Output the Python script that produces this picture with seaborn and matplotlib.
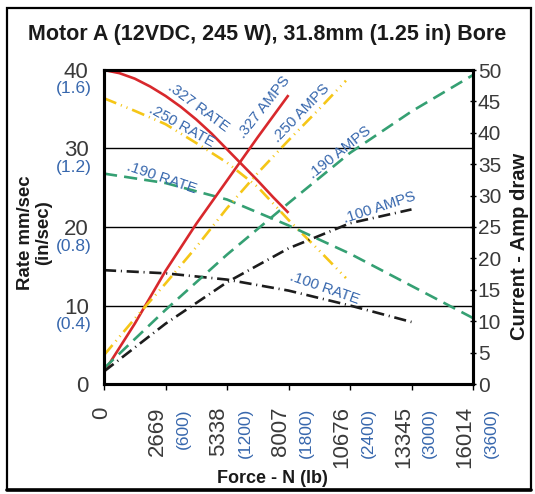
import matplotlib
matplotlib.use("Agg")
import matplotlib.pyplot as plt
import matplotlib.transforms as mtransforms
from matplotlib import font_manager
from matplotlib.patches import Rectangle
from matplotlib.lines import Line2D
import seaborn as sns

# ---------------- data ----------------
title = "Motor A (12VDC, 245 W), 31.8mm (1.25 in) Bore"
force_ticks = [0, 2669, 5338, 8007, 10676, 13345, 16014]
force_lb = ["", "(600)", "(1200)", "(1800)", "(2400)", "(3000)", "(3600)"]
rate_ticks = [0, 10, 20, 30, 40]
rate_in = ["", "(0.4)", "(0.8)", "(1.2)", "(1.6)"]
amp_ticks = [0, 5, 10, 15, 20, 25, 30, 35, 40, 45, 50]

# .327 lead
f327r = [0, 667, 1334, 2001, 2669, 3336, 4003, 4670, 5338, 6005, 6672, 7339, 8007]
rate327 = [40.0, 39.6, 38.9, 37.9, 36.7, 35.3, 33.7, 31.9, 29.9, 27.9, 25.9, 23.8, 21.8]
f327 = [0, 1334, 2669, 4003, 5338, 6672, 8007]
amps327 = [1.9, 9.6, 18.0, 25.5, 32.4, 39.3, 46.0]

# .250 lead
f250 = [0, 1334, 2669, 4003, 5338, 6672, 8007, 9341, 10500]
rate250 = [36.4, 34.8, 33.1, 30.7, 28.2, 25.1, 20.9, 17.0, 13.5]
amps250 = [4.6, 10.4, 16.0, 21.8, 28.0, 33.6, 38.8, 43.8, 48.3]

# .190 lead
f190 = [0, 2669, 5338, 8007, 10676, 13345, 16014]
rate190 = [26.8, 25.6, 23.5, 20.2, 16.6, 12.5, 8.4]
amps190 = [2.5, 11.8, 20.6, 28.8, 36.8, 43.4, 49.2]

# .100 lead
f100 = [0, 2669, 5338, 8007, 10676, 13345]
rate100 = [14.5, 14.1, 13.3, 11.9, 10.0, 7.9]
amps100 = [2.0, 9.6, 16.2, 21.6, 25.6, 27.8]

# line labels: (text, force, rate-axis value, rotation)
label_text = [".327 RATE", ".250 RATE", ".190 RATE", ".327 AMPS",
              ".250 AMPS", ".190 AMPS", ".100 AMPS", ".100 RATE"]
label_x = [4100, 3372, 2504, 6944, 8572, 10242, 11978, 9591]
label_y = [35.3, 32.8, 26.3, 35.3, 34.5, 29.5, 22.5, 12.2]
label_rot = [-36.6, -29.0, -18.8, 51.6, 46.0, 38.5, 18.0, -19.3]

# ---------------- style ----------------
sns.set_style("white")
names = {f.name for f in font_manager.fontManager.ttflist}
narrow = "Liberation Sans Narrow" if "Liberation Sans Narrow" in names else "Liberation Sans"
plt.rcParams["font.family"] = ["Liberation Sans", "DejaVu Sans"]

RED = "#d8282c"
YEL = "#f5c617"
GRN = "#35a073"
BLK = "#1c1c1c"
BLUE = "#3767ad"
GRAY = "#3a3a3a"
LW = 1.9

ls_green = (0, (5.0, 2.7))
ls_black = (0, (4.6, 1.8, 0.4, 1.8))
ls_yel = (0, (5.0, 1.9, 0.4, 1.9, 0.4, 1.9))

fig = plt.figure(figsize=(5.35, 4.94), dpi=100)
ax = fig.add_axes([104 / 535, 1 - 384 / 494, 369 / 535, 314 / 494])
ax2 = ax.twinx()

# rate curves (left axis)
sns.lineplot(x=f327r, y=rate327, ax=ax, color=RED, linewidth=LW, solid_capstyle="butt")
sns.lineplot(x=f250, y=rate250, ax=ax, color=YEL, linewidth=LW, linestyle=ls_yel)
sns.lineplot(x=f190, y=rate190, ax=ax, color=GRN, linewidth=LW, linestyle=ls_green)
sns.lineplot(x=f100, y=rate100, ax=ax, color=BLK, linewidth=LW, linestyle=ls_black)

# current curves (right axis)
sns.lineplot(x=f327, y=amps327, ax=ax2, color=RED, linewidth=LW, solid_capstyle="butt")
sns.lineplot(x=f250, y=amps250, ax=ax2, color=YEL, linewidth=LW, linestyle=ls_yel)
sns.lineplot(x=f190, y=amps190, ax=ax2, color=GRN, linewidth=LW, linestyle=ls_green)
sns.lineplot(x=f100, y=amps100, ax=ax2, color=BLK, linewidth=LW, linestyle=ls_black)

ax.set_xlim(0, 16014)
ax.set_ylim(0, 40)
ax2.set_ylim(0, 50)

# grid
ax.set_yticks(rate_ticks)
ax.yaxis.grid(True, color="black", linewidth=1.0)
ax.xaxis.grid(False)
ax2.grid(False)

for a in (ax, ax2):
    for s in a.spines.values():
        s.set_visible(True)
        s.set_color("black")
        s.set_linewidth(2.2)

# left ticks
ax.set_yticklabels([str(v) for v in rate_ticks], fontfamily=narrow,
                   fontsize=16, color=GRAY)
ax.tick_params(axis="y", left=False, length=0, pad=11)
for v, lab in zip(rate_ticks, rate_in):
    if lab:
        tr = mtransforms.offset_copy(
            mtransforms.blended_transform_factory(ax.transAxes, ax.transData),
            fig=fig, x=-12, y=-19, units="dots")
        ax.text(0, v, lab, transform=tr, ha="right", va="center",
                color=BLUE, fontsize=12.5)

# right ticks
ax2.set_yticks(amp_ticks)
ax2.set_yticklabels([str(v) for v in amp_ticks], fontfamily=narrow,
                    fontsize=15, color=GRAY)
ax2.tick_params(axis="y", right=True, direction="inout", length=5,
                width=1.0, pad=1, colors="black", labelcolor=GRAY)

# x ticks
ax.set_xticks(force_ticks)
ax.set_xticklabels([str(v) for v in force_ticks], rotation=90, fontsize=16,
                   color=GRAY, ha="center", va="top")
ax.tick_params(axis="x", bottom=True, direction="out", length=4, width=1.0,
               pad=12, colors="black", labelcolor=GRAY)
for v, lab in zip(force_ticks, ax.get_xticklabels()):
    shift = -2 if v == 0 else -8
    lab.set_transform(lab.get_transform() + mtransforms.Affine2D().translate(shift, 0))
for v, lab in zip(force_ticks, force_lb):
    if lab:
        tr = mtransforms.offset_copy(
            mtransforms.blended_transform_factory(ax.transData, ax.transAxes),
            fig=fig, x=18, y=-24, units="dots")
        ax.text(v, 0, lab, transform=tr, rotation=90, ha="center", va="top",
                color=BLUE, fontsize=12.5)

# axis labels
ax.set_xlabel("Force - N (lb)", fontsize=13, fontweight="bold", color="#1a1a1a")
ax.xaxis.set_label_coords((272 - 104) / 369, (384 - 478) / 314)
ax.xaxis.label.set_va("center")
ax.set_ylabel("Rate mm/sec\n(in/sec)", fontsize=13.4, fontweight="bold",
              color="#1a1a1a", linespacing=1.1)
ax.yaxis.set_label_coords((34.5 - 104) / 369, (384 - 233) / 314)
ax.yaxis.label.set_va("center")
ax2.set_ylabel("Current - Amp draw", fontsize=14.5, fontweight="bold",
               color="#1a1a1a", rotation=90)
ax2.yaxis.set_label_coords((519 - 104) / 369, (384 - 246.5) / 314)
ax2.yaxis.label.set_va("center")

# line labels
for t, x, y, r in zip(label_text, label_x, label_y, label_rot):
    ax.text(x, y, t, rotation=r, rotation_mode="anchor", ha="center",
            va="center", color=BLUE, fontsize=10.8, zorder=5)

# title
fig.text(267 / 535, 1 - 40 / 494, title, ha="center", va="baseline",
         fontsize=15.5, fontweight="bold", color="#1a1a1a")

# outer frame
fig.patches.append(Rectangle((7 / 535, 4 / 494), 524 / 535, 482 / 494,
                             transform=fig.transFigure, fill=False,
                             edgecolor="black", linewidth=1.6))
fig.lines.append(Line2D([7 / 535, 531 / 535], [4 / 494, 4 / 494],
                        transform=fig.transFigure, color="black", linewidth=2.6))

fig.savefig("out.png", dpi=100)
